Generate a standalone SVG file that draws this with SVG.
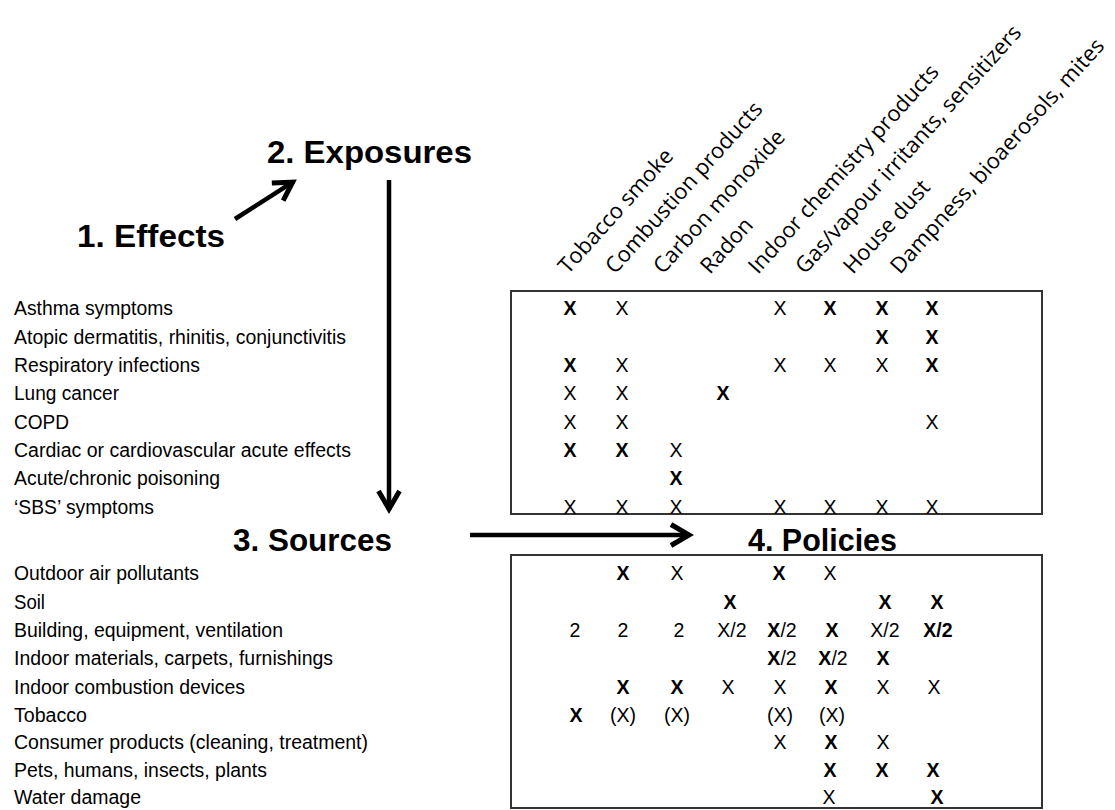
<svg xmlns="http://www.w3.org/2000/svg" width="1115" height="810" viewBox="0 0 1115 810">
<style>
.t{font-family:"Liberation Sans",Arial,sans-serif;font-size:19.5px;fill:#000}
.c{font-family:"Liberation Sans",Arial,sans-serif;font-size:19.5px;fill:#000;text-anchor:middle}
.b{font-weight:bold}
.h{font-family:"Open Sans","Noto Sans",sans-serif;font-size:22px;fill:#000}
.title{font-family:"Liberation Sans",Arial,sans-serif;font-size:32px;font-weight:bold;fill:#000}
.box{fill:none;stroke:#333;stroke-width:2}
.arr{fill:none;stroke:#000;stroke-width:4.5;marker-end:url(#ah)}
</style>
<defs>
<marker id="ah" markerUnits="userSpaceOnUse" markerWidth="40" markerHeight="40" viewBox="-30 -20 40 40" refX="0" refY="0" orient="auto">
<path d="M-19,-10.5 L-1,0 L-19,10.5" fill="none" stroke="#000" stroke-width="5" stroke-linejoin="miter"/>
</marker>
</defs>
<rect width="1115" height="810" fill="#fff"/>

<g id="title-effects"><text class="title" x="77" y="247" textLength="148" lengthAdjust="spacingAndGlyphs">1. Effects</text></g>
<g id="title-exposures"><text class="title" x="267" y="163" textLength="205" lengthAdjust="spacingAndGlyphs">2. Exposures</text></g>
<g id="title-sources"><text class="title" x="233" y="551" textLength="159" lengthAdjust="spacingAndGlyphs">3. Sources</text></g>
<g id="title-policies"><text class="title" x="748" y="551" textLength="149" lengthAdjust="spacingAndGlyphs">4. Policies</text></g>

<g id="connectors">
<path class="arr" d="M235,219 L293.5,181.6"/>
<path class="arr" d="M389,180 L389,510"/>
<path class="arr" d="M470,535 L690,535"/>
</g>

<g id="exposure-headers">
<text class="h" transform="translate(568,275) rotate(-48)">Tobacco smoke</text>
<text class="h" transform="translate(615,275) rotate(-48)">Combustion products</text>
<text class="h" transform="translate(663,275) rotate(-48)">Carbon monoxide</text>
<text class="h" transform="translate(710,275) rotate(-48)">Radon</text>
<text class="h" transform="translate(758,275) rotate(-48)">Indoor chemistry products</text>
<text class="h" transform="translate(805,275) rotate(-48)">Gas/vapour irritants, sensitizers</text>
<text class="h" transform="translate(853,275) rotate(-48)">House dust</text>
<text class="h" transform="translate(900,275) rotate(-48)">Dampness, bioaerosols, mites</text>
</g>

<g id="effects-labels">
<text class="t" x="14" y="315" textLength="159" lengthAdjust="spacingAndGlyphs">Asthma symptoms</text>
<text class="t" x="14" y="344" textLength="332" lengthAdjust="spacingAndGlyphs">Atopic dermatitis, rhinitis, conjunctivitis</text>
<text class="t" x="14" y="372" textLength="186" lengthAdjust="spacingAndGlyphs">Respiratory infections</text>
<text class="t" x="14" y="400" textLength="105" lengthAdjust="spacingAndGlyphs">Lung cancer</text>
<text class="t" x="14" y="429" textLength="55" lengthAdjust="spacingAndGlyphs">COPD</text>
<text class="t" x="14" y="457" textLength="337" lengthAdjust="spacingAndGlyphs">Cardiac or cardiovascular acute effects</text>
<text class="t" x="14" y="485" textLength="206" lengthAdjust="spacingAndGlyphs">Acute/chronic poisoning</text>
<text class="t" x="14" y="514" textLength="140" lengthAdjust="spacingAndGlyphs">&#8216;SBS&#8217; symptoms</text>
</g>

<g id="effects-matrix">
<rect class="box" x="511" y="291" width="531" height="223"/>
<text class="c b" x="570" y="315">X</text><text class="c" x="622" y="315">X</text><text class="c" x="780" y="315">X</text><text class="c b" x="830" y="315">X</text><text class="c b" x="882" y="315">X</text><text class="c b" x="932" y="315">X</text>
<text class="c b" x="882" y="344">X</text><text class="c b" x="932" y="344">X</text>
<text class="c b" x="570" y="372">X</text><text class="c" x="622" y="372">X</text><text class="c" x="780" y="372">X</text><text class="c" x="830" y="372">X</text><text class="c" x="882" y="372">X</text><text class="c b" x="932" y="372">X</text>
<text class="c" x="570" y="400">X</text><text class="c" x="622" y="400">X</text><text class="c b" x="723" y="400">X</text>
<text class="c" x="570" y="429">X</text><text class="c" x="622" y="429">X</text><text class="c" x="932" y="429">X</text>
<text class="c b" x="570" y="457">X</text><text class="c b" x="622" y="457">X</text><text class="c" x="676" y="457">X</text>
<text class="c b" x="676" y="485">X</text>
<text class="c" x="570" y="514">X</text><text class="c" x="622" y="514">X</text><text class="c" x="676" y="514">X</text><text class="c" x="780" y="514">X</text><text class="c" x="830" y="514">X</text><text class="c" x="882" y="514">X</text><text class="c" x="932" y="514">X</text>
</g>

<g id="sources-labels">
<text class="t" x="14" y="580" textLength="185" lengthAdjust="spacingAndGlyphs">Outdoor air pollutants</text>
<text class="t" x="14" y="609" textLength="31" lengthAdjust="spacingAndGlyphs">Soil</text>
<text class="t" x="14" y="637" textLength="269" lengthAdjust="spacingAndGlyphs">Building, equipment, ventilation</text>
<text class="t" x="14" y="665" textLength="319" lengthAdjust="spacingAndGlyphs">Indoor materials, carpets, furnishings</text>
<text class="t" x="14" y="694" textLength="231" lengthAdjust="spacingAndGlyphs">Indoor combustion devices</text>
<text class="t" x="14" y="722" textLength="73" lengthAdjust="spacingAndGlyphs">Tobacco</text>
<text class="t" x="14" y="749" textLength="354" lengthAdjust="spacingAndGlyphs">Consumer products (cleaning, treatment)</text>
<text class="t" x="14" y="777" textLength="253" lengthAdjust="spacingAndGlyphs">Pets, humans, insects, plants</text>
<text class="t" x="14" y="804" textLength="127" lengthAdjust="spacingAndGlyphs">Water damage</text>
</g>

<g id="policies-matrix">
<rect class="box" x="511" y="555" width="531" height="253"/>
<text class="c b" x="623" y="580">X</text><text class="c" x="677" y="580">X</text><text class="c b" x="779" y="580">X</text><text class="c" x="830" y="580">X</text>
<text class="c b" x="730" y="609">X</text><text class="c b" x="885" y="609">X</text><text class="c b" x="937" y="609">X</text>
<text class="c" x="575" y="637">2</text><text class="c" x="623" y="637">2</text><text class="c" x="679" y="637">2</text><text class="c" x="732" y="637">X/2</text><text class="c" x="782" y="637"><tspan class="b">X</tspan>/2</text><text class="c b" x="832" y="637">X</text><text class="c" x="885" y="637">X/2</text><text class="c b" x="938" y="637">X/2</text>
<text class="c" x="782" y="665"><tspan class="b">X</tspan>/2</text><text class="c" x="833" y="665"><tspan class="b">X</tspan>/2</text><text class="c b" x="883" y="665">X</text>
<text class="c b" x="623" y="694">X</text><text class="c b" x="677" y="694">X</text><text class="c" x="728" y="694">X</text><text class="c" x="780" y="694">X</text><text class="c b" x="831" y="694">X</text><text class="c" x="883" y="694">X</text><text class="c" x="934" y="694">X</text>
<text class="c b" x="576" y="722">X</text><text class="c" x="623" y="722">(X)</text><text class="c" x="677" y="722">(X)</text><text class="c" x="780" y="722">(X)</text><text class="c" x="832" y="722">(X)</text>
<text class="c" x="780" y="749">X</text><text class="c b" x="831" y="749">X</text><text class="c" x="883" y="749">X</text>
<text class="c b" x="830" y="777">X</text><text class="c b" x="882" y="777">X</text><text class="c b" x="933" y="777">X</text>
<text class="c" x="829" y="804">X</text><text class="c b" x="937" y="804">X</text>
</g>
</svg>
